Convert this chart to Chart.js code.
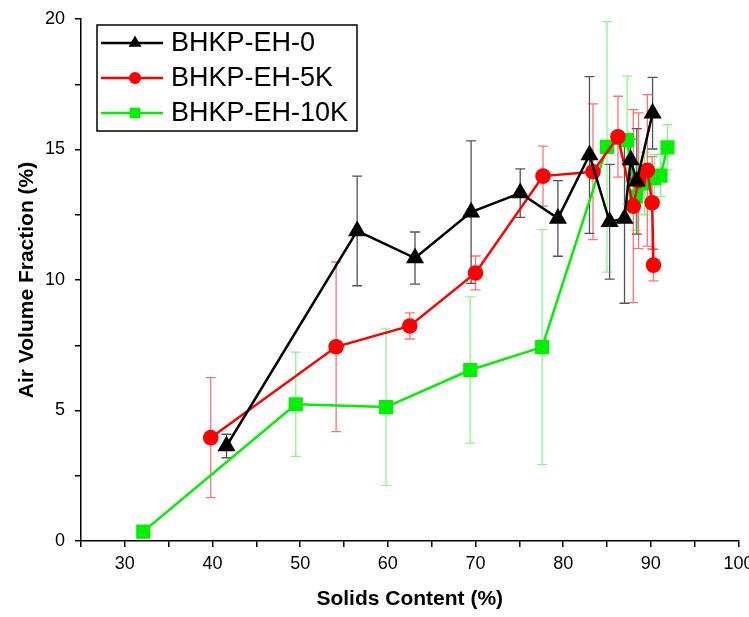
<!DOCTYPE html>
<html>
<head>
<meta charset="utf-8">
<script src="https://cdn.jsdelivr.net/npm/chart.js@4/dist/chart.umd.min.js"></script>
<style>
  body { margin: 0; background: #fff; }
  #chart { display: block; }
</style>
</head>
<body>
<canvas id="chart" width="749" height="617"></canvas>
<script>
// values
var seriesNames = ['BHKP-EH-0', 'BHKP-EH-5K', 'BHKP-EH-10K'];

var blackX = [41.6, 56.5, 63.1, 69.5, 75.1, 79.4, 83.0, 85.3, 87.0, 87.7, 88.4, 90.2];
var blackY = [3.64, 11.88, 10.84, 12.6, 13.33, 12.36, 14.79, 12.23, 12.36, 14.6, 13.78, 16.39];
var blackErr = [0.45, 2.1, 1.0, 2.73, 0.93, 1.45, 3.0, 2.2, 3.25, 0.8, 2.02, 1.37];

var redX = [39.8, 54.1, 62.5, 70.0, 77.7, 83.4, 86.25, 88.0, 88.6, 89.6, 90.15, 90.3];
var redY = [3.96, 7.44, 8.24, 10.27, 13.98, 14.15, 15.49, 12.83, 13.8, 14.2, 12.96, 10.57];
var redErr = [2.3, 3.25, 0.5, 0.65, 1.15, 2.6, 1.55, 3.7, 2.6, 2.9, 1.77, 0.6];

var greenX = [32.1, 49.5, 59.8, 69.4, 77.6, 85.0, 87.3, 88.3, 89.3, 90.4, 91.1, 91.9];
var greenY = [0.36, 5.24, 5.13, 6.55, 7.43, 15.1, 15.36, 13.2, 13.7, 13.9, 14.0, 15.08];
var greenErr = [0.1, 2.0, 3.0, 2.8, 4.5, 4.8, 2.45, 1.3, 1.2, 0.9, 0.8, 0.87];

var FONT = "'Liberation Sans', Arial, sans-serif";

function toPoints(xs, ys, errs) {
  return xs.map(function (x, i) {
    return { x: x, y: ys[i], err: errs[i] };
  });
}

function makeDataset(label, xs, ys, errs, color, errColor, style, radius, legendRadius) {
  return {
    label: label,
    data: toPoints(xs, ys, errs),
    borderColor: color,
    backgroundColor: color,
    borderWidth: 2.5,
    pointStyle: style,
    pointRadius: radius,
    pointHoverRadius: radius,
    pointBorderWidth: 0,
    errColor: errColor,
    legendRadius: legendRadius,
    tension: 0
  };
}

// vertical error bars with caps, drawn under the lines
var errorBars = {
  id: 'errorBars',
  beforeDatasetsDraw: function (chart) {
    var ctx = chart.ctx;
    var xs = chart.scales.x;
    var ys = chart.scales.y;
    ctx.save();
    chart.data.datasets.forEach(function (ds) {
      ctx.strokeStyle = ds.errColor;
      ctx.lineWidth = 1.3;
      ds.data.forEach(function (p) {
        var px = xs.getPixelForValue(p.x);
        var top = ys.getPixelForValue(p.y + p.err);
        var bot = ys.getPixelForValue(p.y - p.err);
        ctx.beginPath();
        ctx.moveTo(px, top);
        ctx.lineTo(px, bot);
        ctx.moveTo(px - 5, top);
        ctx.lineTo(px + 5, top);
        ctx.moveTo(px - 5, bot);
        ctx.lineTo(px + 5, bot);
        ctx.stroke();
      });
    });
    ctx.restore();
  }
};

// boxed legend in the upper left of the plot
var boxLegend = {
  id: 'boxLegend',
  afterDraw: function (chart) {
    var ctx = chart.ctx;
    var left = 97, top = 25, width = 260, height = 106;
    ctx.save();
    ctx.fillStyle = '#fff';
    ctx.fillRect(left, top, width, height);
    ctx.strokeStyle = '#000';
    ctx.lineWidth = 1.5;
    ctx.strokeRect(left, top, width, height);
    chart.data.datasets.forEach(function (ds, i) {
      var y = 43 + i * 35;
      ctx.strokeStyle = ds.borderColor;
      ctx.lineWidth = 2.5;
      ctx.beginPath();
      ctx.moveTo(101, y);
      ctx.lineTo(163, y);
      ctx.stroke();
      ctx.fillStyle = ds.backgroundColor;
      Chart.helpers.drawPoint(ctx, {
        pointStyle: ds.pointStyle,
        radius: ds.legendRadius,
        borderWidth: 0,
        rotation: 0
      }, 135, y);
      ctx.fillStyle = '#000';
      ctx.font = '27px ' + FONT;
      ctx.textBaseline = 'middle';
      ctx.textAlign = 'left';
      ctx.fillText(ds.label, 171, y + 1);
    });
    ctx.restore();
  }
};

var tickFont = { family: FONT, size: 18 };
var titleFont = { family: FONT, size: 21, weight: 'bold' };

var chart = new Chart(document.getElementById('chart'), {
  type: 'line',
  data: {
    datasets: [
      makeDataset(seriesNames[0], blackX, blackY, blackErr, '#000000', 'rgba(40,40,40,0.8)', 'triangle', 10.5, 7.5),
      makeDataset(seriesNames[1], redX, redY, redErr, '#ff0000', 'rgba(255,40,40,0.65)', 'circle', 7.8, 6),
      makeDataset(seriesNames[2], greenX, greenY, greenErr, '#00f000', 'rgba(60,240,60,0.6)', 'rect', 10, 7.5)
    ]
  },
  options: {
    responsive: false,
    devicePixelRatio: 1,
    animation: false,
    layout: { padding: { top: 19, right: 8, left: 0, bottom: 0 } },
    plugins: {
      legend: { display: false },
      tooltip: { enabled: false }
    },
    scales: {
      x: {
        type: 'linear',
        min: 25,
        max: 100,
        border: { display: true, color: '#000', width: 1.5 },
        grid: { drawOnChartArea: false, drawTicks: true, tickLength: 6, color: '#000', lineWidth: 1.5 },
        ticks: {
          stepSize: 5,
          autoSkip: false,
          maxRotation: 0,
          color: '#000',
          font: tickFont,
          padding: 6,
          callback: function (v) { return v % 10 === 0 ? v : ''; }
        },
        title: {
          display: true,
          text: 'Solids Content (%)',
          color: '#000',
          font: titleFont,
          padding: { top: 0, bottom: 5 }
        },
        afterFit: function (scale) {
          scale.height = 76;
          scale.paddingLeft = 0;
          scale.paddingRight = 0;
        }
      },
      y: {
        type: 'linear',
        min: 0,
        max: 20,
        border: { display: true, color: '#000', width: 1.5 },
        grid: { drawOnChartArea: false, drawTicks: true, tickLength: 6, color: '#000', lineWidth: 1.5 },
        ticks: {
          stepSize: 2.5,
          autoSkip: false,
          color: '#000',
          font: tickFont,
          padding: 10,
          callback: function (v) { return v % 5 === 0 ? v : ''; }
        },
        title: {
          display: true,
          text: 'Air Volume Fraction (%)',
          color: '#000',
          font: titleFont,
          padding: { top: 15, bottom: 0 }
        },
        afterFit: function (scale) {
          scale.width = 81;
          scale.paddingTop = 0;
          scale.paddingBottom = 0;
        }
      }
    }
  },
  plugins: [errorBars, boxLegend]
});
</script>
</body>
</html>
